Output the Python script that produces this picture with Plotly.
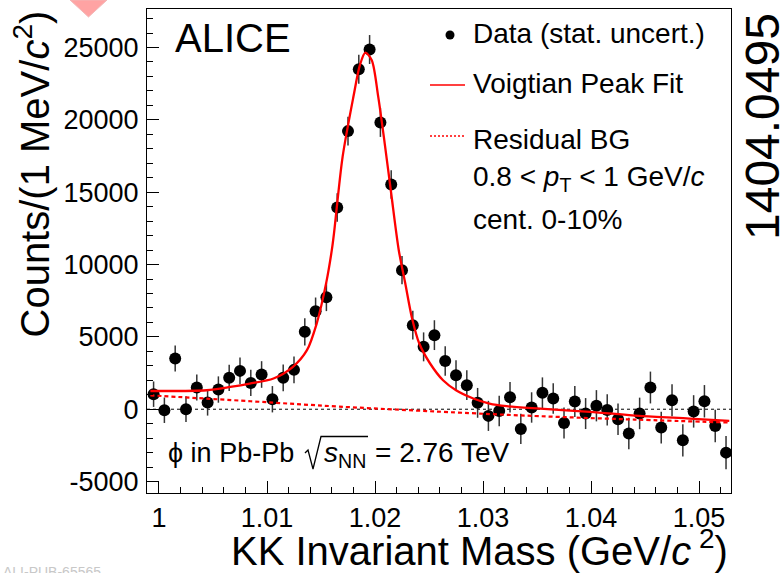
import plotly.graph_objects as go

# ---------------- data ----------------
mass = [0.9995, 1.0005, 1.0015, 1.0025, 1.0035, 1.0045, 1.0055, 1.0065, 1.0075, 1.0085,
        1.0095, 1.0105, 1.0115, 1.0125, 1.0135, 1.0145, 1.0155, 1.0165, 1.0175, 1.0185,
        1.0195, 1.0205, 1.0215, 1.0225, 1.0235, 1.0245, 1.0255, 1.0265, 1.0275, 1.0285,
        1.0295, 1.0305, 1.0315, 1.0325, 1.0335, 1.0345, 1.0355, 1.0365, 1.0375, 1.0385,
        1.0395, 1.0405, 1.0415, 1.0425, 1.0435, 1.0445, 1.0455, 1.0465, 1.0475, 1.0485,
        1.0495, 1.0505, 1.0515, 1.0525]
counts = [1040, -70, 3500, 0, 1500, 460, 1360, 2170, 2650, 1820,
          2400, 690, 2170, 2720, 5350, 6770, 7740, 13940, 19220, 23500,
          24860, 19820, 15530, 9610, 5810, 4310, 5120, 3340, 2350, 1660,
          440, -460, -120, 830, -1360, 120, 1140, 740, -950, 530,
          -300, 240, -50, -690, -1680, -290, 1500, -1270, 620, -2150,
          -150, 550, -1160, -3000]
stat_err = [880, 880, 900, 890, 900, 900, 910, 910, 920, 910,
            920, 910, 920, 930, 940, 950, 960, 980, 990, 1000,
            1000, 1000, 990, 980, 990, 1000, 1030, 1020, 1030, 1030,
            1030, 1040, 1050, 1050, 1040, 1050, 1060, 1060, 1070, 1070,
            1070, 1080, 1080, 1090, 1090, 1090, 1100, 1100, 1100, 1110,
            1120, 1120, 1130, 1150]

# Voigtian peak fit (peak + residual BG)
fit_mass = [0.9992, 1.0044, 1.0066, 1.0084, 1.0106, 1.0124, 1.0137, 1.0146, 1.0155, 1.0160,
            1.0162, 1.0170, 1.0180, 1.0186, 1.0191, 1.0197, 1.0203, 1.0209, 1.0215, 1.0222,
            1.0228, 1.0234, 1.0241, 1.0251, 1.0263, 1.0275, 1.0291, 1.0306, 1.0322, 1.0353,
            1.0399, 1.0445, 1.0491, 1.0528]
fit_vals = [1260, 1310, 1540, 1770, 2120, 2930, 4080, 5920, 8800, 10990,
            12140, 17440, 21590, 23780, 24650, 24120, 21590, 18360, 14910, 10990,
            8700, 6380, 4540, 3160, 2000, 1310, 740, 390, 210, 40,
            -180, -460, -645, -806]

# Residual background
bg_mass = [0.9992, 1.0085, 1.0167, 1.0288, 1.0352, 1.0440, 1.0528]
bg_vals = [960, 550, 180, -270, -480, -715, -920]

x_tickvals = [1.00, 1.01, 1.02, 1.03, 1.04, 1.05]
x_ticktext = ["1", "1.01", "1.02", "1.03", "1.04", "1.05"]
y_tickvals = [-5000, 0, 5000, 10000, 15000, 20000, 25000]
y_ticktext = ["-5000", "0", "5000", "10000", "15000", "20000", "25000"]

legend_labels = ["Data (stat. uncert.)", "Voigtian Peak Fit", "Residual BG"]

# ---------------- layout helpers ----------------
W, H = 783, 573
L, R, T, B = 147, 731, 9, 493
FONT = "Liberation Sans"


def px(x):
    return (x - L) / (R - L)


def py(y):
    return (B - y) / (B - T)


fig = go.Figure()

fig.add_trace(go.Scatter(
    x=mass, y=counts, mode="markers",
    marker=dict(symbol="circle", size=12, color="black"),
    error_y=dict(type="data", array=stat_err, visible=True, thickness=1.5,
                 width=0, color="#333333"),
    showlegend=False, hoverinfo="skip"))

fig.add_trace(go.Scatter(
    x=bg_mass, y=bg_vals, mode="lines",
    line=dict(color="#ff0000", width=2.2, dash="4px,3px", shape="spline"),
    showlegend=False, hoverinfo="skip"))

fig.add_trace(go.Scatter(
    x=fit_mass, y=fit_vals, mode="lines",
    line=dict(color="#ff0000", width=2.3, shape="spline", smoothing=0.8),
    showlegend=False, hoverinfo="skip"))

shapes = []
shapes.append(dict(type="line", xref="paper", yref="y", x0=0, x1=1, y0=0, y1=0,
                   line=dict(color="black", width=1, dash="dot"), layer="below"))
r = 4.5
shapes.append(dict(type="circle", xref="paper", yref="paper",
                   x0=px(450 - r), x1=px(450 + r), y0=py(35 + r), y1=py(35 - r),
                   fillcolor="black", line=dict(color="black", width=0)))
shapes.append(dict(type="line", xref="paper", yref="paper",
                   x0=px(430), x1=px(465), y0=py(85), y1=py(85),
                   line=dict(color="#ff0000", width=1.5)))
shapes.append(dict(type="line", xref="paper", yref="paper",
                   x0=px(430), x1=px(465), y0=py(136), y1=py(136),
                   line=dict(color="#ff0000", width=1.5, dash="2px,2px")))
shapes.append(dict(type="path", xref="paper", yref="paper",
                   path="M %f,%f L %f,%f L %f,%f L %f,%f L %f,%f" % (
                       px(305), py(453), px(308), py(450), px(313), py(469),
                       px(321), py(436.5), px(368), py(436.5)),
                   line=dict(color="black", width=1.3)))
shapes.append(dict(type="path", xref="paper", yref="paper",
                   path="M %f,%f L %f,%f L %f,%f Z" % (
                       px(70), py(0), px(107), py(0), px(88.5), py(17)),
                   fillcolor="#ffa3a3", line=dict(color="#f2b8b8", width=1)))

ann = []


def text(s, x, y, size, xanchor="left", yanchor="top", angle=0, color="black"):
    ann.append(dict(text=s, x=px(x), y=py(y), xref="paper", yref="paper",
                    xanchor=xanchor, yanchor=yanchor, showarrow=False,
                    textangle=angle, font=dict(family=FONT, size=size, color=color),
                    borderpad=0))


def top_from_baseline(b, f):
    return b - 0.905 * f


LG = 28
text("ALICE", 174, top_from_baseline(51, 40), 40)
text(legend_labels[0], 472, top_from_baseline(42, LG), LG)
text(legend_labels[1], 472, top_from_baseline(92, LG), LG)
text(legend_labels[2], 472, top_from_baseline(148, LG), LG)
text("0.8 &lt; <i>p</i><sub>T</sub> &lt; 1 GeV/<i>c</i>", 472, top_from_baseline(185, LG), LG)
text("cent. 0-10%", 472, top_from_baseline(228, LG), LG)
text("ϕ in Pb-Pb", 167, top_from_baseline(461, 27), 27)
text("<i>s</i><sub>NN</sub>", 323, top_from_baseline(461, 28), 28)
text("= 2.76 TeV", 374, top_from_baseline(461, 28), 28)
text("1404.0495", 763, 127, 48, xanchor="center", yanchor="middle", angle=-90)
text("KK Invariant Mass (GeV/<i>c</i><sup> 2</sup>)", 729, 574, 40,
     xanchor="right", yanchor="bottom")
text("Counts/(1 MeV/<i>c</i><sup>2</sup>)", 58, 10, 40,
     xanchor="right", yanchor="top", angle=-90)
text("ALI-PUB-65565", 2, 563, 14, color="#c8c8c8")

fig.update_layout(
    width=W, height=H,
    margin=dict(l=L, r=W - R, t=T, b=H - B, pad=0),
    paper_bgcolor="white", plot_bgcolor="white",
    shapes=shapes, annotations=ann,
    font=dict(family=FONT, color="black"),
    xaxis=dict(range=[0.99889, 1.05296], tickmode="array", tickvals=x_tickvals,
               ticktext=x_ticktext, ticks="inside", ticklen=12, tickwidth=1,
               tickcolor="black", showline=True, linecolor="black", linewidth=1.2,
               mirror=True, showgrid=False, zeroline=False,
               tickfont=dict(family=FONT, size=27, color="black"),
               ticklabelstandoff=0,
               minor=dict(tick0=1.0, dtick=0.002, ticks="inside", ticklen=6,
                          tickwidth=1, tickcolor="black", showgrid=False)),
    yaxis=dict(range=[-5790, 27660], tickmode="array", tickvals=y_tickvals,
               ticktext=y_ticktext, ticks="inside", ticklen=12, tickwidth=1,
               tickcolor="black", showline=True, linecolor="black", linewidth=1.2,
               mirror=True, showgrid=False, zeroline=False,
               tickfont=dict(family=FONT, size=27, color="black"),
               ticklabelstandoff=2,
               minor=dict(tick0=0, dtick=1000, ticks="inside", ticklen=6,
                          tickwidth=1, tickcolor="black", showgrid=False)),
)

fig.write_html("out.html", config={"displayModeBar": False},
               post_script="document.body.style.margin='0';"
                           "document.body.style.overflow='hidden';")
